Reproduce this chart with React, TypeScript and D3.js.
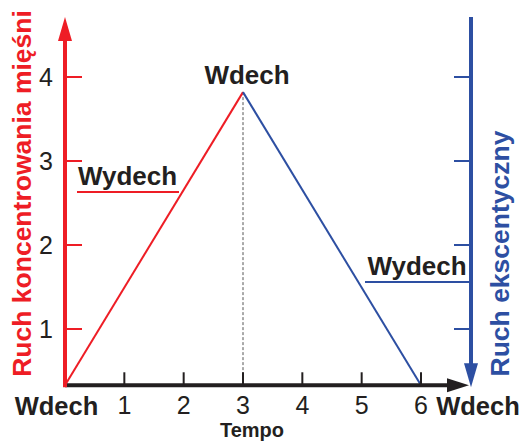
import React from "react";
import * as d3 from "d3";

const xTicks = [1, 2, 3, 4, 5, 6];
const yTicks = [1, 2, 3, 4];
const baseValue = 0.33;
const peakValue = 3.82;
const redSeries: [number, number][] = [[0, baseValue], [3, peakValue]];
const blueSeries: [number, number][] = [[3, peakValue], [6, baseValue]];
const leftWydechValue = 2.63;
const rightWydechValue = 1.56;

const RED = "#ee1d25";
const BLUE = "#2d4fa2";
const BLACK = "#231f20";
const FONT = "'Liberation Sans', Arial, Helvetica, sans-serif";

export default function App() {
  const x = d3.scaleLinear().domain([0, 6]).range([65, 421]);
  const y = d3.scaleLinear().domain([0, 4]).range([413, 77]);
  const line = d3.line<[number, number]>().x((d) => x(d[0])).y((d) => y(d[1]));
  const axisY = y(baseValue);
  const leftX = x(0);
  const rightX = 471;
  const topY = 17;
  const arrowRightX = 469;

  return (
    <svg width={527} height={442} style={{ position: "absolute", left: 0, top: 0, background: "#fff" }}>
      {/* dashed vertical */}
      <line x1={x(3)} x2={x(3)} y1={y(peakValue)} y2={axisY} stroke="#555" strokeWidth={1} strokeDasharray="3,2" />
      {/* data lines */}
      <path d={line(redSeries) || ""} fill="none" stroke={RED} strokeWidth={2} />
      <path d={line(blueSeries) || ""} fill="none" stroke={BLUE} strokeWidth={2} />

      {/* x axis */}
      <line x1={leftX} x2={arrowRightX - 14} y1={axisY} y2={axisY} stroke={BLACK} strokeWidth={4} />
      <path d={`M${arrowRightX},${axisY} L${arrowRightX - 22},${axisY - 7} L${arrowRightX - 22},${axisY + 7} Z`} fill={BLACK} />
      {xTicks.map((t) => (
        <g key={t}>
          <line x1={x(t)} x2={x(t)} y1={axisY} y2={axisY - 13} stroke={BLACK} strokeWidth={2} />
          <text x={x(t)} y={414} textAnchor="middle" fontFamily={FONT} fontSize={25} fill={BLACK}>{t}</text>
        </g>
      ))}

      {/* left red axis */}
      <line x1={leftX} x2={leftX} y1={axisY + 2} y2={topY + 18} stroke={RED} strokeWidth={4} />
      <path d={`M${leftX},${topY} L${leftX - 7},${topY + 24} L${leftX + 7},${topY + 24} Z`} fill={RED} />
      {yTicks.map((t) => (
        <g key={t}>
          <line x1={leftX} x2={leftX + 17} y1={y(t)} y2={y(t)} stroke={RED} strokeWidth={2} />
          <text x={53} y={y(t) + 9} textAnchor="end" fontFamily={FONT} fontSize={25} fill={BLACK}>{t}</text>
        </g>
      ))}

      {/* right blue axis */}
      <line x1={rightX} x2={rightX} y1={topY} y2={axisY - 18} stroke={BLUE} strokeWidth={4} />
      <path d={`M${rightX},${axisY + 2} L${rightX - 7},${axisY - 22} L${rightX + 7},${axisY - 22} Z`} fill={BLUE} />
      {yTicks.map((t) => (
        <line key={t} x1={rightX - 17} x2={rightX} y1={y(t)} y2={y(t)} stroke={BLUE} strokeWidth={2} />
      ))}

      {/* axis titles */}
      <text transform={`translate(31,193.5) rotate(-90)`} textAnchor="middle" fontFamily={FONT} fontWeight="bold" fontSize={26.5} fill={RED}>Ruch koncentrowania mięśni</text>
      <text transform={`translate(509,253.5) rotate(-90)`} textAnchor="middle" fontFamily={FONT} fontWeight="bold" fontSize={26.5} fill={BLUE}>Ruch ekscentyczny</text>
      <text x={252} y={437} textAnchor="middle" fontFamily={FONT} fontWeight="bold" fontSize={20} fill={BLACK}>Tempo</text>

      {/* bottom labels */}
      <text x={56.5} y={415} textAnchor="middle" fontFamily={FONT} fontWeight="bold" fontSize={25.5} fill={BLACK}>Wdech</text>
      <text x={478} y={415} textAnchor="middle" fontFamily={FONT} fontWeight="bold" fontSize={25.5} fill={BLACK}>Wdech</text>

      {/* annotations */}
      <text x={247} y={84} textAnchor="middle" fontFamily={FONT} fontWeight="bold" fontSize={26} fill={BLACK}>Wdech</text>
      <text x={127.5} y={185} textAnchor="middle" fontFamily={FONT} fontWeight="bold" fontSize={26} fill={BLACK}>Wydech</text>
      <line x1={77} x2={179} y1={y(leftWydechValue)} y2={y(leftWydechValue)} stroke={RED} strokeWidth={2} />
      <text x={417} y={275} textAnchor="middle" fontFamily={FONT} fontWeight="bold" fontSize={26} fill={BLACK}>Wydech</text>
      <line x1={365} x2={rightX} y1={y(rightWydechValue)} y2={y(rightWydechValue)} stroke={BLUE} strokeWidth={2} />
    </svg>
  );
}
